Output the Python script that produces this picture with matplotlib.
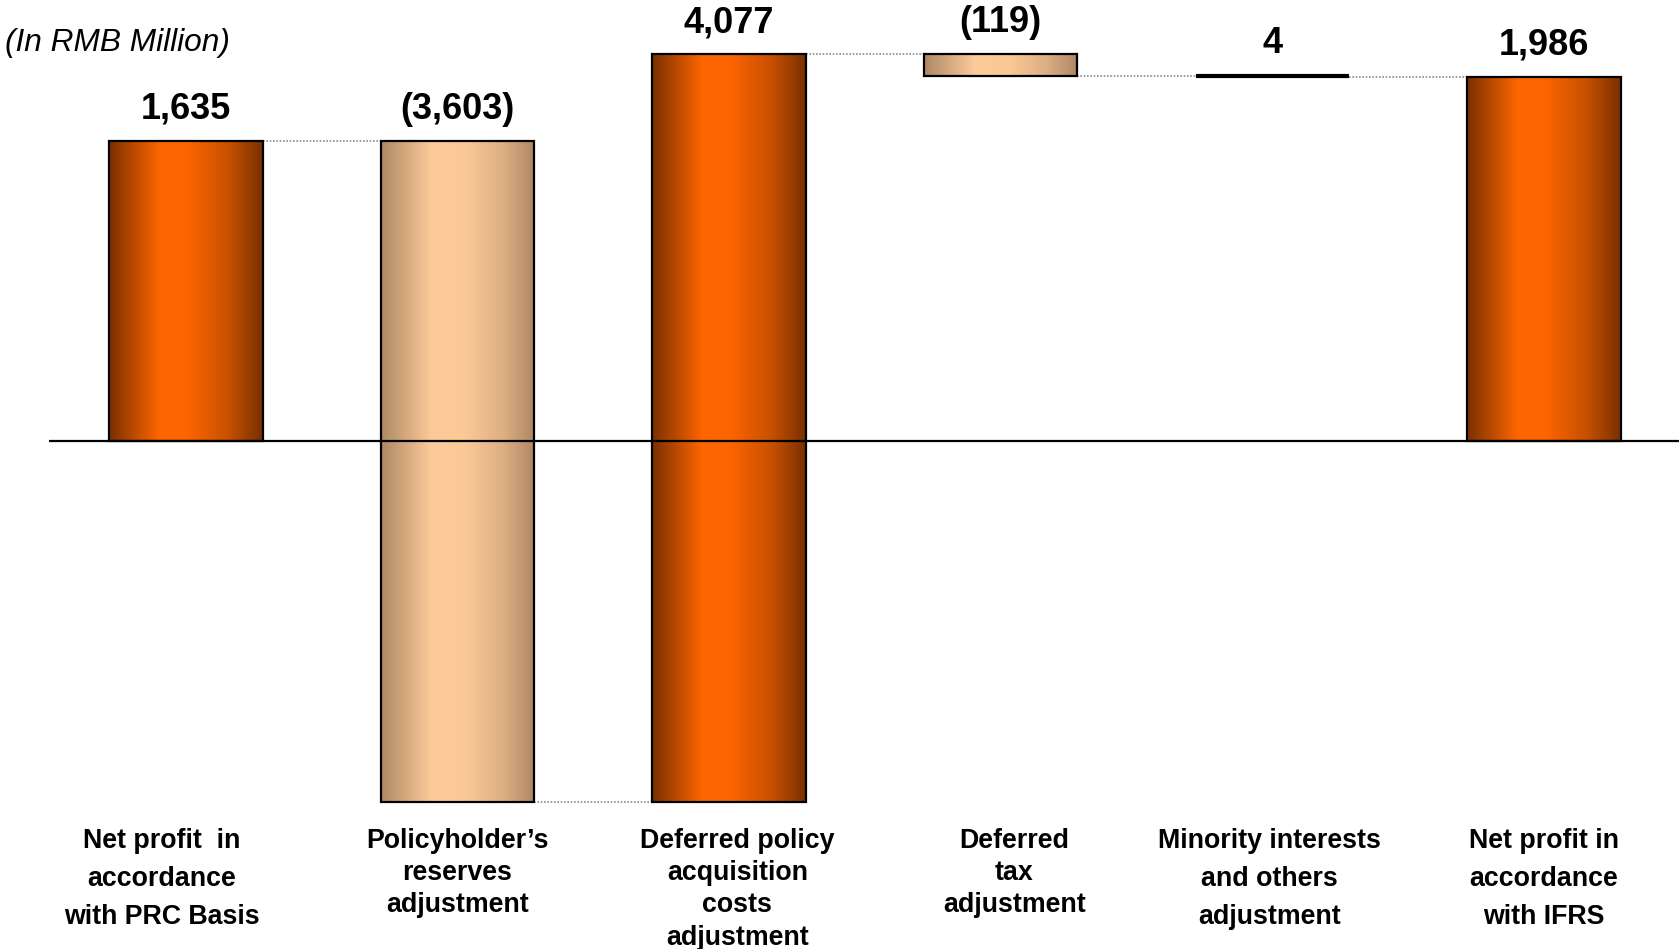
import matplotlib.pyplot as plt
import numpy as np
from matplotlib.colors import LinearSegmentedColormap

plt.rcParams['font.family'] = ['Liberation Sans', 'DejaVu Sans']

# data
categories = ["Net profit  in\naccordance\nwith PRC Basis",
              "Policyholder\u2019s\nreserves\nadjustment",
              "Deferred policy\nacquisition\ncosts\nadjustment",
              "Deferred\ntax\nadjustment",
              "Minority interests\nand others\nadjustment",
              "Net profit in\naccordance\nwith IFRS"]
values = [1635, -3603, 4077, -119, 4, 1986]
is_total = [True, False, False, False, False, True]
value_labels = ["1,635", "(3,603)", "4,077", "(119)", "4", "1,986"]

# gradient colours (dark edge -> bright middle -> dark edge)
orange_cm = LinearSegmentedColormap.from_list(
    "org", [(0, "#7a3000"), (0.33, "#fe6600"), (0.52, "#fb6400"),
            (0.78, "#c65000"), (1, "#7a3000")])
tan_cm = LinearSegmentedColormap.from_list(
    "tan", [(0, "#ae8865"), (0.33, "#fccb99"), (0.55, "#fbc996"),
            (0.8, "#dcae82"), (1, "#ae8865")])

fig = plt.figure(figsize=(16.79, 9.49), dpi=100)
ax = fig.add_axes([49 / 1679, 0, 1 - 49 / 1679, 1])

width = 0.565
grad = np.linspace(0, 1, 256).reshape(1, -1)

# running levels of the waterfall
bottoms, tops = [], []
level = 0
for v, tot in zip(values, is_total):
    if tot:
        lo, hi = min(0, v), max(0, v)
        level = v
    else:
        lo, hi = min(level, level + v), max(level, level + v)
        level = level + v
    bottoms.append(lo)
    tops.append(hi)

for i, v in enumerate(values):
    x0 = i - width / 2
    x1 = i + width / 2
    lo, hi = bottoms[i], tops[i]
    cm = orange_cm if (is_total[i] or v > 0) else tan_cm
    if hi - lo > 20:
        ax.imshow(grad, cmap=cm, extent=(x0, x1, lo, hi), aspect='auto',
                  interpolation='bicubic', zorder=2)
        ax.add_patch(plt.Rectangle((x0, lo), width, hi - lo, fill=False,
                                   edgecolor='black', lw=1.6, zorder=3))
    else:
        # tiny change is shown as a thick line
        ax.plot([x0, x1], [hi, hi], color='black', lw=3, zorder=3,
                solid_capstyle='butt')
    ax.annotate(value_labels[i], (i, hi), xytext=(0, 23),
                textcoords='offset points', ha='center', va='center',
                fontsize=26, fontweight='bold')

# dotted connectors between bars
prev_level = values[0]
for i in range(1, len(values)):
    if is_total[i]:
        y = values[i]
    else:
        y = prev_level
    ax.plot([i - 1 + width / 2, i - width / 2], [y, y], color='#8c8c8c',
            lw=1.2, ls=(0, (1, 1)), zorder=1)
    if not is_total[i]:
        prev_level = prev_level + values[i]

ax.axhline(0, color='black', lw=1.6, zorder=4)

# category labels
label_dx = [-0.09, 0, 0.03, 0.05, -0.01, 0]
label_ls = [1.62, 1.32, 1.32, 1.32, 1.62, 1.62]
for i, lab in enumerate(categories):
    ax.text(i + label_dx[i], 0.128, lab, transform=ax.get_xaxis_transform(),
            ha='center', va='top', fontsize=19.3, fontweight='bold',
            linespacing=label_ls[i], multialignment='center')

fig.text(5 / 1679, 1 - 43 / 949, "(In RMB Million)", fontsize=22.8,
         style='italic', va='center', ha='left')

ax.set_xlim(-0.504, 5.497)
ax.set_ylim(-2769, 2406)
ax.axis('off')

fig.savefig("out.png", dpi=100)
